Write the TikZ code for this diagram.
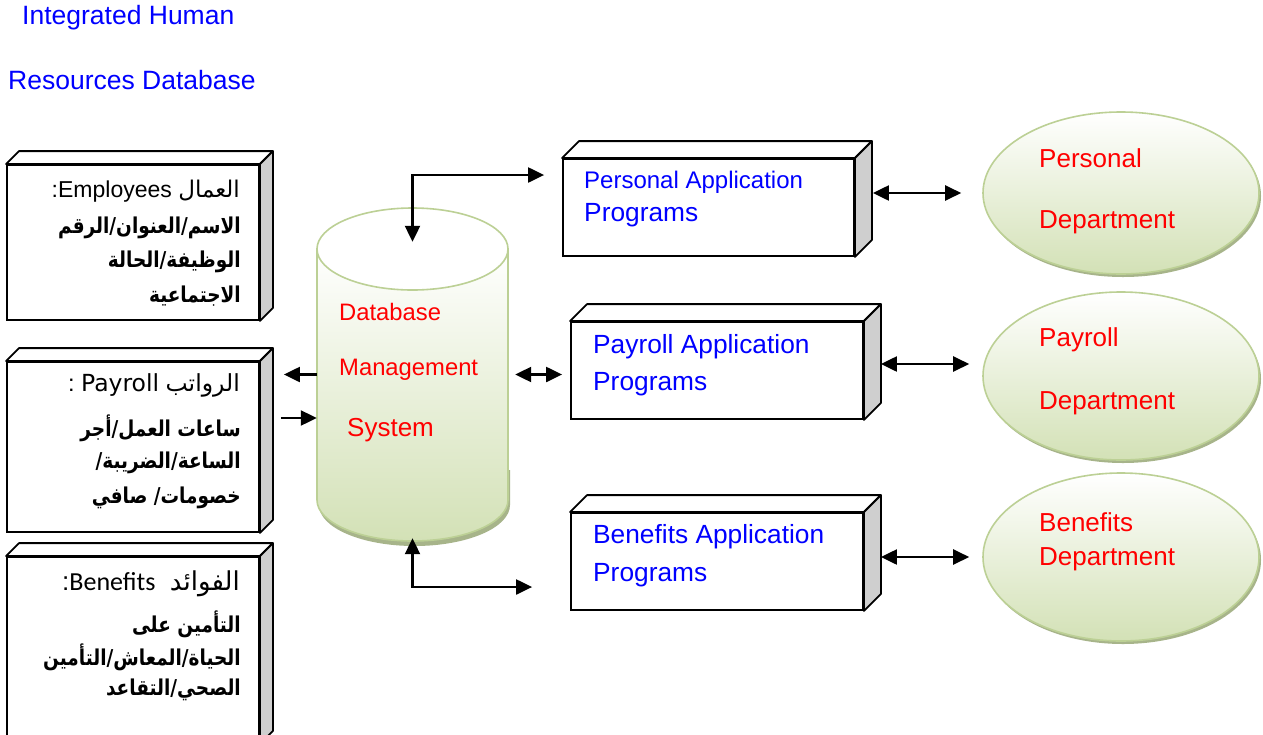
\documentclass[tikz,border=0pt]{standalone}
\usepackage{fontspec}
\usepackage{graphicx}
\setmainfont{Liberation Sans}
\newfontfamily\arabicfont[Script=Arabic]{DejaVu Sans}
\newfontfamily\dvsans{DejaVu Sans}
\newfontfamily\carl{Carlito}
\TeXXeTstate=1
\usetikzlibrary{arrows.meta,shadows,calc,shapes.geometric}
\definecolor{txtblue}{HTML}{0000FF}
\definecolor{txtred}{HTML}{FF0000}
\definecolor{deptgreen}{HTML}{D3E1B6}
\definecolor{bordgreen}{HTML}{BCD095}
\definecolor{shadgreen}{HTML}{A7B48A}
\definecolor{sidegray}{HTML}{CFCFCF}
\newcommand{\boxfaces}[2]{%
  \draw[topface] (#1.north west) -- ++(#2,-#2) -- ($(#1.north east)+(#2,-#2)$) -- (#1.north east) -- cycle;
  \draw[sideface] (#1.north east) -- ++(#2,-#2) -- ($(#1.south east)+(#2,-#2)$) -- (#1.south east) -- cycle;}
\newcommand{\artall}[1]{\scalebox{1}[1.18]{\beginR #1\endR}}
\begin{document}
\begin{tikzpicture}[x=1pt,y=-1pt,
  front/.style={draw=black, line width=1.8pt, fill=white, inner sep=0pt, rectangle},
  sideface/.style={draw=black, line width=1.8pt, fill=sidegray, line join=round},
  topface/.style={draw=black, line width=1.8pt, fill=white, line join=round},
  dept/.style={ellipse, draw=bordgreen, line width=1.6pt, top color=white, bottom color=deptgreen,
    minimum width=276pt, inner sep=0pt,
    drop shadow={shadow xshift=2pt, shadow yshift=-3pt, fill=shadgreen, opacity=1}},
  deptlbl/.style={anchor=west, text=txtred, font=\fontsize{26}{30}\selectfont, inner sep=0pt},
  dblbl/.style={anchor=west, text=txtred, inner sep=0pt},
  applbl/.style={anchor=west, text=txtblue, inner sep=0pt},
  arbl/.style={anchor=east, inner sep=0pt},
  arbold/.style={arbl, font=\arabicfont\bfseries\fontsize{18.5}{22}\selectfont},
  arr/.style={line width=2.2pt, -{Triangle[length=16pt,width=15pt]}},
  dbl/.style={line width=2.2pt, {Triangle[length=16pt,width=15pt]}-{Triangle[length=16pt,width=15pt]}}]
\clip (0,0) rectangle (1263,734);
\fill[white] (0,0) rectangle (1263,734);

% title
\node[applbl, font=\fontsize{26.5}{30}\selectfont] (t1) at (22,18) {Integrated Human};
\node[applbl, font=\fontsize{26.5}{30}\selectfont] (t2) at (8,80) {Resources Database};

% left boxes
\node[front, minimum width=252pt, minimum height=155pt] (b1) at (133,242.5) {};
\boxfaces{b1}{13}
\node[front, minimum width=252pt, minimum height=170pt] (b2) at (133,447) {};
\boxfaces{b2}{13}
\node[front, minimum width=252pt, minimum height=186pt] (b3) at (133,650) {};
\boxfaces{b3}{13}

\node[arbl, font=\fontsize{23}{26}\selectfont] (e1) at (240,191) {\beginR{\arabicfont العمال} \beginL Employees\endL:\endR};
\node[arbold] (e2) at (241,228) {\artall{الاسم/العنوان/الرقم}};
\node[arbold] (e3) at (241,262) {\artall{الوظيفة/الحالة}};
\node[arbold] (e4) at (241,296) {\artall{الاجتماعية}};

\node[arbl, font=\fontsize{23.5}{26}\selectfont] (p1) at (240,385) {\beginR{\arabicfont الرواتب} \beginL{\dvsans Payroll}\endL{} :\endR};
\node[arbold] (p2) at (241,428) {\artall{ساعات العمل/أجر}};
\node[arbold] (p3) at (241,463) {\artall{الساعة/الضريبة/}};
\node[arbold] (p4) at (241,498) {\artall{خصومات/ صافي}};

\node[arbl, font=\fontsize{26}{30}\selectfont] (f1) at (240,584) {\beginR{\arabicfont الفوائد}\ \ \beginL{\carl Benefits}\endL:\endR};
\node[arbold] (f2) at (241,624) {\artall{التأمين على}};
\node[arbold] (f3) at (241,657) {\artall{الحياة/المعاش/التأمين}};
\node[arbold] (f4) at (241,690) {\artall{الصحي/التقاعد}};

% cylinder
\fill[shadgreen] (319,470) -- (319,505) arc[start angle=180,end angle=360,x radius=95.5pt,y radius=41pt] -- (510,470) -- cycle;
\shadedraw[top color=white, bottom color=deptgreen, draw=bordgreen, line width=1.6pt]
  (317,249) -- (317,500) arc[start angle=180,end angle=360,x radius=95.5pt,y radius=41pt] -- (508,249) -- cycle;
\draw[bordgreen, line width=1.6pt, fill=white] (412.5,249) ellipse[x radius=95.5pt, y radius=41pt];
\node[inner sep=0pt, minimum width=191pt, minimum height=333pt] (db) at (412.5,374.5) {};
\node[dblbl, font=\fontsize{23.8}{28}\selectfont] (d1) at (339,312) {Database};
\node[dblbl, font=\fontsize{23.8}{28}\selectfont] (d2) at (339,370) {Management};
\node[dblbl, font=\fontsize{26}{30}\selectfont] (d3) at (347,430) {System};

% application boxes
\node[front, minimum width=291pt, minimum height=97pt] (pa) at (708.5,207.5) {};
\boxfaces{pa}{17}
\node[front, minimum width=292pt, minimum height=97pt] (pya) at (717,370.5) {};
\boxfaces{pya}{17}
\node[front, minimum width=292pt, minimum height=97pt] (ba) at (717,561.5) {};
\boxfaces{ba}{17}

\node[applbl, font=\fontsize{24}{28}\selectfont] (pa1) at (584,182) {Personal Application};
\node[applbl, font=\fontsize{26.3}{30}\selectfont] (pa2) at (584,215) {Programs};
\node[applbl, font=\fontsize{26.3}{30}\selectfont] (pya1) at (593,347) {Payroll Application};
\node[applbl, font=\fontsize{26.3}{30}\selectfont] (pya2) at (593,384) {Programs};
\node[applbl, font=\fontsize{26.3}{30}\selectfont] (ba1) at (593,537) {Benefits Application};
\node[applbl, font=\fontsize{26.3}{30}\selectfont] (ba2) at (593,575) {Programs};

% departments
\node[dept, minimum height=162pt] (pe) at (1121,193) {};
\node[dept, minimum height=168pt] (pyd) at (1121,376) {};
\node[dept, minimum height=168pt] (bd) at (1121,557) {};
\node[deptlbl] (pe1) at (1039,158) {Personal};
\node[deptlbl] (pe2) at (1039,222) {Department};
\node[deptlbl] (pyd1) at (1039,340) {Payroll};
\node[deptlbl] (pyd2) at (1039,403) {Department};
\node[deptlbl] (bd1) at (1039,522) {Benefits};
\node[deptlbl] (bd2) at (1039,559) {Department};

% connectors
\draw[dbl] ([yshift=-34pt]db.north) |- ([xshift=-18pt,yshift=32.5pt]pa.west);
\draw[dbl] ([yshift=3pt]db.south) |- ([xshift=-38pt,yshift=-25.5pt]ba.west);
\draw[dbl, shorten <=7pt, shorten >=8pt] (db.east) -- (db.east -| pya.west);
\draw[arr, shorten >=24pt] (db.west) -- (db.west -| b2.east);
\coordinate (l2) at ([yshift=-43.5pt]db.west);
\draw[arr, shorten <=21pt] (l2 -| b2.east) -- (l2);
\draw[dbl, shorten <=18pt, shorten >=21pt] (pe.west -| pa.east) -- (pe.west);
\coordinate (r2) at ([yshift=12pt]pyd.west);
\draw[dbl, shorten <=17pt, shorten >=13pt] (r2 -| pya.east) -- (r2);
\draw[dbl, shorten <=17pt, shorten >=13pt] (bd.west -| ba.east) -- (bd.west);
\end{tikzpicture}
\end{document}
